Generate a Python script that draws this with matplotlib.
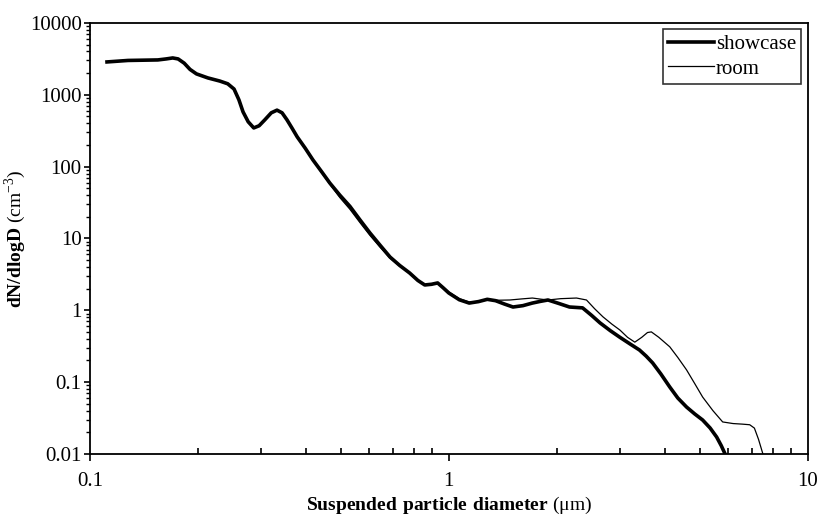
import numpy as np
import matplotlib
matplotlib.use("Agg")
import matplotlib.pyplot as plt

plt.rcParams['font.family'] = ['Liberation Serif', 'DejaVu Serif']
plt.rcParams['mathtext.fontset'] = 'custom'
plt.rcParams['mathtext.rm'] = 'Liberation Serif'
plt.rcParams['mathtext.bf'] = 'Liberation Serif:bold'

# showcase (thick line)
x_show = [0.1115, 0.1276, 0.1545, 0.163, 0.170, 0.176, 0.183, 0.190, 0.198, 0.213,
          0.230, 0.242, 0.252, 0.260, 0.267, 0.276, 0.286, 0.296, 0.307, 0.320,
          0.332, 0.343, 0.354, 0.366, 0.378, 0.398, 0.418, 0.442, 0.466, 0.497,
          0.530, 0.566, 0.603, 0.644, 0.686, 0.730, 0.778, 0.820, 0.857, 0.895,
          0.931, 0.965, 1.0, 1.07, 1.14, 1.21, 1.28, 1.35, 1.43, 1.51,
          1.61, 1.71, 1.80, 1.89, 2.02, 2.17, 2.36, 2.50, 2.64, 2.82,
          3.0, 3.20, 3.40, 3.55, 3.70, 3.90, 4.13, 4.35, 4.6, 4.85,
          5.1, 5.35, 5.58, 5.75, 5.88, 5.95]
y_show = [2860, 3000, 3050, 3150, 3250, 3150, 2750, 2250, 1950, 1714,
          1550, 1420, 1200, 850, 577, 420, 345, 370, 447, 560,
          610, 560, 447, 340, 259, 180, 124, 85, 59, 40,
          28, 18, 11.9, 8, 5.5, 4.2, 3.3, 2.6, 2.25, 2.3,
          2.4, 2.05, 1.74, 1.4, 1.26, 1.32, 1.42, 1.36, 1.22, 1.11,
          1.16, 1.26, 1.33, 1.39, 1.25, 1.11, 1.08, 0.85, 0.667, 0.52,
          0.42, 0.34, 0.28, 0.23, 0.185, 0.13, 0.0855, 0.06, 0.045, 0.036,
          0.0297, 0.023, 0.0172, 0.013, 0.0102, 0.009]

# room (thin line)
x_room = [0.1115, 0.1276, 0.1545, 0.163, 0.170, 0.176, 0.183, 0.190, 0.198, 0.213,
          0.230, 0.242, 0.252, 0.260, 0.267, 0.276, 0.286, 0.296, 0.307, 0.320,
          0.332, 0.343, 0.354, 0.366, 0.378, 0.398, 0.418, 0.442, 0.466, 0.497,
          0.530, 0.566, 0.603, 0.644, 0.686, 0.730, 0.778, 0.820, 0.857, 0.895,
          0.931, 0.965, 1.0, 1.07, 1.14, 1.21, 1.28, 1.38, 1.48, 1.60,
          1.71, 1.80, 1.89, 2.05, 2.27, 2.42, 2.55, 2.69, 2.85, 3.0,
          3.15, 3.30, 3.45, 3.58, 3.67, 3.85, 4.13, 4.35, 4.6, 4.85,
          5.1, 5.45, 5.8, 6.2, 6.59, 6.9, 7.11, 7.3, 7.5, 7.6]
y_room = [2860, 3000, 3050, 3150, 3250, 3150, 2750, 2250, 1950, 1714,
          1550, 1420, 1200, 850, 577, 420, 345, 370, 447, 560,
          610, 560, 447, 340, 259, 180, 124, 82, 57, 37,
          25.5, 16.5, 11, 7.5, 5.3, 4.1, 3.3, 2.6, 2.25, 2.3,
          2.4, 2.1, 1.8, 1.45, 1.3, 1.32, 1.4, 1.38, 1.39, 1.44,
          1.48, 1.43, 1.39, 1.45, 1.48, 1.39, 1.05, 0.81, 0.64, 0.53,
          0.42, 0.36, 0.42, 0.49, 0.50, 0.42, 0.31, 0.22, 0.148, 0.095,
          0.062, 0.04, 0.0279, 0.0265, 0.026, 0.0255, 0.0229, 0.016, 0.0102, 0.009]

fig = plt.figure(figsize=(8.2, 5.2), dpi=100)
ax = fig.add_axes([0.1098, 0.127, 0.875, 0.829])

ax.plot(x_show, y_show, 'k-', linewidth=2.6, label='showcase')
ax.plot(x_room, y_room, 'k-', linewidth=0.9, label='room')

ax.set_xscale('log')
ax.set_yscale('log')
ax.set_xlim(0.1, 10)
ax.set_ylim(0.01, 10000)

ax.set_xticks([0.1, 1, 10])
ax.set_xticklabels(['0.1', '1', '10'])
ax.set_yticks([0.01, 0.1, 1, 10, 100, 1000, 10000])
ax.set_yticklabels(['0.01', '0.1', '1', '10', '100', '1000', '10000'])

ax.tick_params(axis='x', which='major', direction='out', length=5, width=1.2,
               labelsize=15, pad=8)
ax.tick_params(axis='x', which='minor', direction='in', length=4, width=1.2)
ax.tick_params(axis='y', which='major', direction='out', length=4, width=1.2,
               labelsize=15, pad=2)
ax.tick_params(axis='y', which='minor', direction='out', length=3, width=1)
for s in ax.spines.values():
    s.set_linewidth(1.3)

ax.set_xlabel(r'$\mathbf{Suspended\ particle\ diameter}$ (μm)', fontsize=14, labelpad=3)
ax.set_ylabel(r'$\mathbf{dN/dlogD}$ (cm$^{-3}$)', fontsize=14, labelpad=1)

leg = ax.legend(loc='upper right', fontsize=15, frameon=True, fancybox=False,
                edgecolor='black', handlelength=2.2, handletextpad=0.1,
                borderpad=0.25, labelspacing=0.25, borderaxespad=0.3)
leg.get_frame().set_linewidth(1.2)

plt.savefig('out.png', dpi=100)
